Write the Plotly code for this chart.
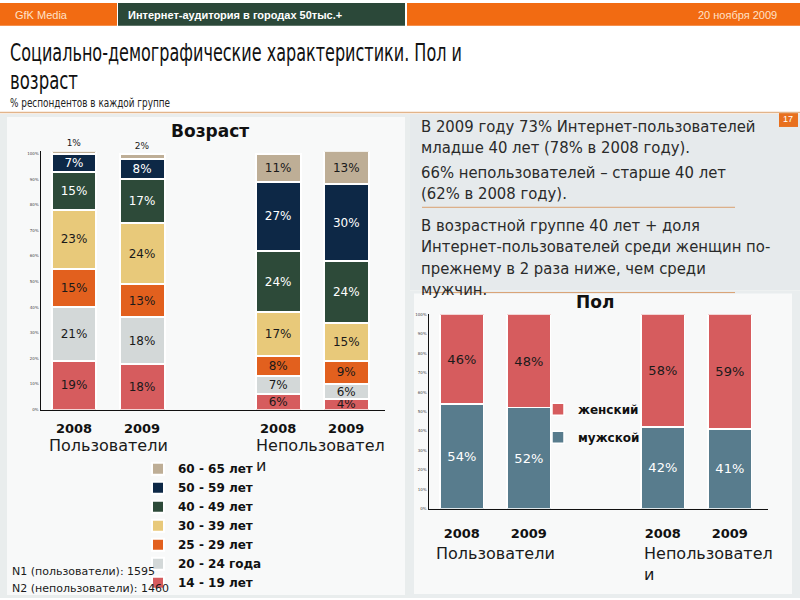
import plotly.graph_objects as go

# ---------------- data ----------------
positions = [0, 1, 3, 4]
year_labels = ["2008", "2009", "2008", "2009"]

age_groups = ["14 - 19 лет", "20 - 24 года", "25 - 29 лет", "30 - 39 лет",
              "40 - 49 лет", "50 - 59 лет", "60 - 65 лет"]
age_14_19 = [19, 18, 6, 4]
age_20_24 = [21, 18, 7, 6]
age_25_29 = [15, 13, 8, 9]
age_30_39 = [23, 24, 17, 15]
age_40_49 = [15, 17, 24, 24]
age_50_59 = [7, 8, 27, 30]
age_60_65 = [1, 2, 11, 13]

gender_groups = ["мужской", "женский"]
male = [54, 52, 42, 41]
female = [46, 48, 58, 59]

tick_vals = list(range(0, 101, 10))
tick_text = [f"{v}%" for v in tick_vals]

age_colors = ["#D65C5E", "#D3D8D8", "#E2601E", "#E8C97A", "#2D4A39", "#0D2846", "#BEAE96"]
age_text_colors = ["#1a1a1a", "#1a1a1a", "#1a1a1a", "#1a1a1a", "#ffffff", "#ffffff", "#1a1a1a"]
age_values = [age_14_19, age_20_24, age_25_29, age_30_39, age_40_49, age_50_59, age_60_65]

W, H = 800, 600
def px(x):
    return x / W
def py(y):
    return 1 - y / H

FONT = "DejaVu Sans"
CFONT = "DejaVu Sans Condensed, DejaVu Sans"
NFONT = "Liberation Sans, Arial, sans-serif"

fig = go.Figure()

for name, vals, col, tcol in zip(age_groups, age_values, age_colors, age_text_colors):
    small_top = name == age_groups[-1]
    fig.add_trace(go.Bar(
        x=positions, y=vals, name=name,
        marker=dict(color=col, line=dict(color="white", width=2)),
        width=0.66, text=[f"{v}%" for v in vals],
        textposition=(["outside" if v < 4 else "inside" for v in vals] if small_top else "inside"),
        insidetextanchor="middle", textangle=0, cliponaxis=False,
        textfont=dict(family=FONT, size=12, color=tcol),
        outsidetextfont=dict(family=FONT, size=9, color="#1a1a1a"),
        xaxis="x", yaxis="y", legend="legend", legendgroup=name,
        hoverinfo="skip"))

gcolors = ["#587C8D", "#D65C5E"]
gtext = ["#ffffff", "#1a1a1a"]
granks = [2, 1]
for name, vals, col, tcol, rk in zip(gender_groups, [male, female], gcolors, gtext, granks):
    fig.add_trace(go.Bar(
        x=positions, y=vals, name=name,
        marker=dict(color=col, line=dict(color="white", width=1.5)),
        width=0.65, text=[f"{v}%" for v in vals], textposition="inside",
        insidetextanchor="middle", textangle=0,
        textfont=dict(family=FONT, size=13, color=tcol),
        xaxis="x2", yaxis="y2", legend="legend2", legendgroup="g" + name, legendrank=rk,
        hoverinfo="skip"))

shapes = []
def rect(x0, y0, x1, y1, color, layer="below"):
    shapes.append(dict(type="rect", xref="paper", yref="paper",
                       x0=px(x0), x1=px(x1), y0=py(y1), y1=py(y0),
                       fillcolor=color, line=dict(width=0), layer=layer))
def hline(x0, x1, y, color, width=1):
    shapes.append(dict(type="line", xref="paper", yref="paper",
                       x0=px(x0), x1=px(x1), y0=py(y), y1=py(y),
                       line=dict(color=color, width=width), layer="below"))

# header
rect(0, 0, 117, 23, "#F26B12")
rect(118, 0, 405, 23, "#2B4839")
rect(407, 0, 800, 23, "#F26B12")
# left panel
rect(0, 112, 410, 600, "#E9EDED")
rect(7, 115, 405, 597, "#F8F9F9")
# right text box
rect(410, 112, 800, 290, "#E6EAEC")
# gender panel
rect(410, 290, 800, 600, "#E9EDEE")
rect(414, 293, 792, 596, "#F8F9F9")
# page number
rect(779, 110, 798, 125, "#E8701E")
hline(0, 800, 110.5, "#E2B48A", 1.5)
hline(422, 735, 206, "#D9A070", 1)
hline(422, 735, 292, "#D9A070", 1)

ann = []
def text(x, y, s, size, color="#1a1a1a", anchor="left", family=FONT, bold=False):
    if bold:
        s = f"<b>{s}</b>"
    ann.append(dict(x=px(x), y=py(y), xref="paper", yref="paper", text=s, showarrow=False,
                    xanchor=anchor, yanchor="middle", align=("left" if anchor == "left" else "center"),
                    font=dict(family=family, size=size, color=color)))

text(13, 12, "GfK Media", 11, "#FFE2C8", family=NFONT)
text(126, 12, "Интернет-аудитория в городах 50тыс.+", 11, "#ffffff", family=NFONT, bold=True)
text(779, 12, "20 ноября 2009", 11, "#FFE2C8", anchor="right", family=NFONT)
text(8, 50, "Социально-демографические характеристики. Пол и", 25, "#111111", family=CFONT)
text(8, 78, "возраст", 25, "#111111", family=CFONT)
text(8, 101, "% респондентов в каждой группе", 12, "#222222", family=CFONT)
text(788, 117, "17", 9, "#ffffff", anchor="center", family=NFONT)

RS = 16.5
LH = RS * 1.3
paragraphs = [(124, ["В 2009 году 73% Интернет-пользователей",
                     "младше 40 лет (78% в 2008 году)."]),
              (171, ["66% непользователей – старше 40 лет",
                     "(62% в 2008 году)."]),
              (224, ["В возрастной группе 40 лет + доля",
                     "Интернет-пользователей среди женщин по-",
                     "прежнему в 2 раза ниже, чем среди",
                     "мужчин."])]
for y0, lines in paragraphs:
    yc = y0 + LH * (len(lines) - 1) / 2
    text(419, yc, "<br>".join(lines), RS, "#2a2a2a", family=CFONT)

text(210, 129, "Возраст", 17, "#111111", anchor="center", bold=True)
text(595, 302, "Пол", 17, "#111111", anchor="center", bold=True)

text(108, 446, "Пользователи", 16, "#1a1a1a", anchor="center")
text(254, 446, "Непользовател", 16, "#1a1a1a")
text(254, 466, "и", 16, "#1a1a1a")
text(495, 555, "Пользователи", 16, "#1a1a1a", anchor="center")
text(642, 555, "Непользовател", 16, "#1a1a1a")
text(642, 576, "и", 16, "#1a1a1a")

text(10, 573, "N1 (пользователи): 1595", 11, "#1a1a1a")
text(10, 590, "N2 (непользователи): 1460", 11, "#1a1a1a")

axis_common = dict(showgrid=False, zeroline=False, fixedrange=True)

fig.update_layout(
    width=W, height=H, margin=dict(l=0, r=0, t=0, b=0),
    paper_bgcolor="white", plot_bgcolor="rgba(0,0,0,0)",
    barmode="stack", shapes=shapes, annotations=ann,
    uniformtext=dict(mode="show", minsize=9),
    font=dict(family=FONT),
    xaxis=dict(domain=[px(41), px(385)], range=[-0.485, 4.57], anchor="y",
               tickvals=positions, ticktext=[f"<b>{t}</b>" for t in year_labels],
               tickfont=dict(family=FONT, size=13, color="#111"),
               ticks="outside", ticklen=6, tickcolor="rgba(0,0,0,0)",
               showline=True, linecolor="#111", linewidth=1.5, **axis_common),
    yaxis=dict(domain=[py(410), py(149.4)], range=[0, 101], anchor="x",
               tickvals=tick_vals, ticktext=tick_text,
               tickfont=dict(size=4, color="#444"),
               ticks="", showline=True, linecolor="#111", linewidth=1.5, **axis_common),
    xaxis2=dict(domain=[px(429), px(768)], range=[-0.49, 4.57], anchor="y2",
                tickvals=positions, ticktext=[f"<b>{t}</b>" for t in year_labels],
                tickfont=dict(family=FONT, size=13, color="#111"),
                ticks="outside", ticklen=12, tickcolor="rgba(0,0,0,0)",
                showline=True, linecolor="#111", linewidth=1.5, **axis_common),
    yaxis2=dict(domain=[py(510), py(314)], range=[0, 100], anchor="x2",
                tickvals=tick_vals, ticktext=tick_text,
                tickfont=dict(size=4, color="#444"),
                ticks="", showline=True, linecolor="#111", linewidth=1.5, **axis_common),
    legend=dict(x=px(138), y=py(455), xanchor="left", yanchor="top",
                bgcolor="rgba(0,0,0,0)", traceorder="reversed", tracegroupgap=0,
                font=dict(family=FONT, size=12, color="#111", weight="bold"), itemwidth=30),
    legend2=dict(x=px(538), y=py(395), xanchor="left", yanchor="top",
                 bgcolor="rgba(0,0,0,0)", traceorder="grouped", tracegroupgap=9,
                 font=dict(family=FONT, size=12, color="#111", weight="bold"), itemwidth=30),
    showlegend=True,
)

post = """
document.body.style.margin='0';document.body.style.padding='0';document.body.style.overflow='hidden';
var targets = {'Социально-демографические': 452, 'возраст': 68, '% респондентов': 160};
document.querySelectorAll('text.annotation-text').forEach(function(t){
  var s = t.textContent;
  for (var k in targets) {
    if (s.indexOf(k) === 0) {
      t.setAttribute('textLength', targets[k]);
      t.setAttribute('lengthAdjust', 'spacingAndGlyphs');
    }
  }
});
"""

fig.write_html("out.html", config={"displayModeBar": False, "staticPlot": True}, post_script=post)
